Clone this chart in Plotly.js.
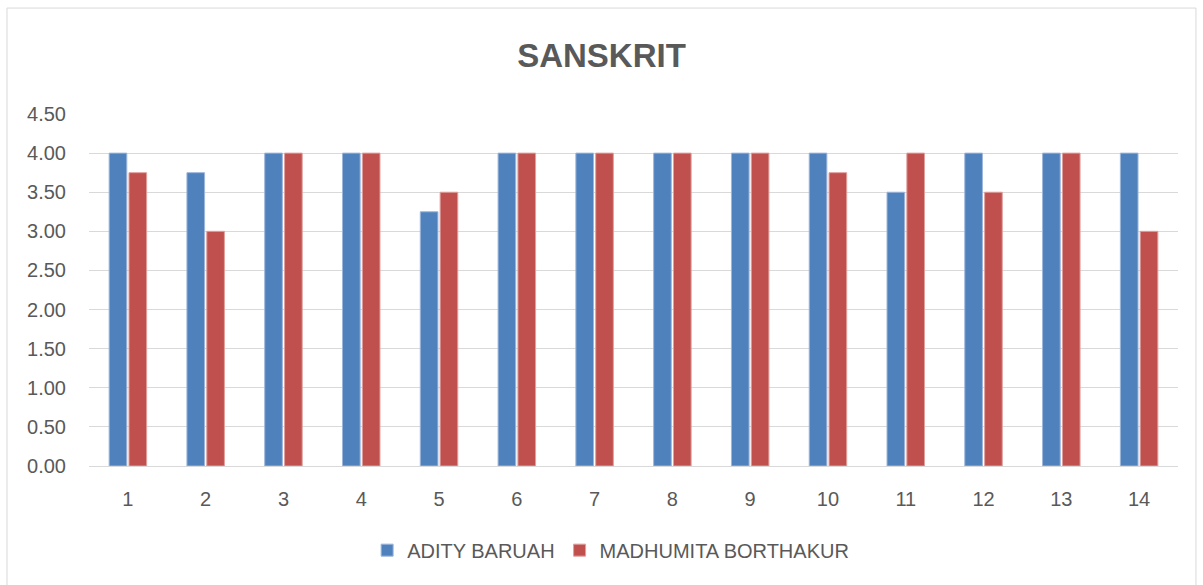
<!DOCTYPE html>
<html>
<head>
<meta charset="utf-8">
<script src="https://cdn.plot.ly/plotly-3.0.1.min.js"></script>
<style>html,body{margin:0;padding:0;background:#fff;}#chart{width:1203px;height:585px;}</style>
</head>
<body>
<div id="chart"></div>
<script>
const categories = ["1","2","3","4","5","6","7","8","9","10","11","12","13","14"];
const seriesNames = ["ADITY BARUAH", "MADHUMITA BORTHAKUR"];
const adityValues = [4.00, 3.75, 4.00, 4.00, 3.25, 4.00, 4.00, 4.00, 4.00, 4.00, 3.50, 4.00, 4.00, 4.00];
const madhumitaValues = [3.75, 3.00, 4.00, 4.00, 3.50, 4.00, 4.00, 4.00, 4.00, 3.75, 4.00, 3.50, 4.00, 3.00];
const tickValues = [0, 0.5, 1, 1.5, 2, 2.5, 3, 3.5, 4, 4.5];
const tickLabels = ["0.00","0.50","1.00","1.50","2.00","2.50","3.00","3.50","4.00","4.50"];

const fontFam = "Liberation Sans, Arial, sans-serif";
const textCol = "#595959";

const traces = [
  {type:"bar", name:seriesNames[0], x:categories, y:adityValues,
   marker:{color:"#4F81BD", line:{color:"#9DB6DB", width:1}}},
  {type:"bar", name:seriesNames[1], x:categories, y:madhumitaValues,
   marker:{color:"#C0504D", line:{color:"#E0A09E", width:1}}}
];

const layout = {
  width:1203, height:585,
  margin:{l:89, r:25, t:114, b:119},
  paper_bgcolor:"#fff", plot_bgcolor:"#fff",
  barmode:"group", bargap:0.49, bargroupgap:0.11,
  font:{family:fontFam, color:textCol, size:20},
  title:{text:"<b>SANSKRIT</b>", font:{family:fontFam, size:33, color:textCol}, x:0.5, xanchor:"center", y:0.905, yanchor:"middle"},
  xaxis:{type:"category", showgrid:false, showline:true, linecolor:"#d9d9d9", linewidth:1,
         ticks:"", tickfont:{size:20, color:textCol}, ticklabelstandoff:15},
  yaxis:{range:[0,4.5], tickvals:tickValues, ticktext:tickLabels, showgrid:true, gridcolor:"#d9d9d9", gridwidth:1,
         zeroline:false, showline:false, ticks:"", tickfont:{size:20, color:textCol}, ticklabelstandoff:22},
  showlegend:true,
  legend:{orientation:"h", x:0.479, xanchor:"center", y:-0.239, yanchor:"middle",
          font:{size:20, color:textCol}, itemwidth:30, traceorder:"normal"},
  shapes:[{type:"rect", xref:"paper", yref:"paper", x0:-0.0753, x1:1.0165, y0:-0.34, y1:1.301,
           line:{color:"#d9d9d9", width:1}, fillcolor:"rgba(0,0,0,0)", layer:"below"}]
};

Plotly.newPlot("chart", traces, layout, {displayModeBar:false, staticPlot:true});
</script>
</body>
</html>
